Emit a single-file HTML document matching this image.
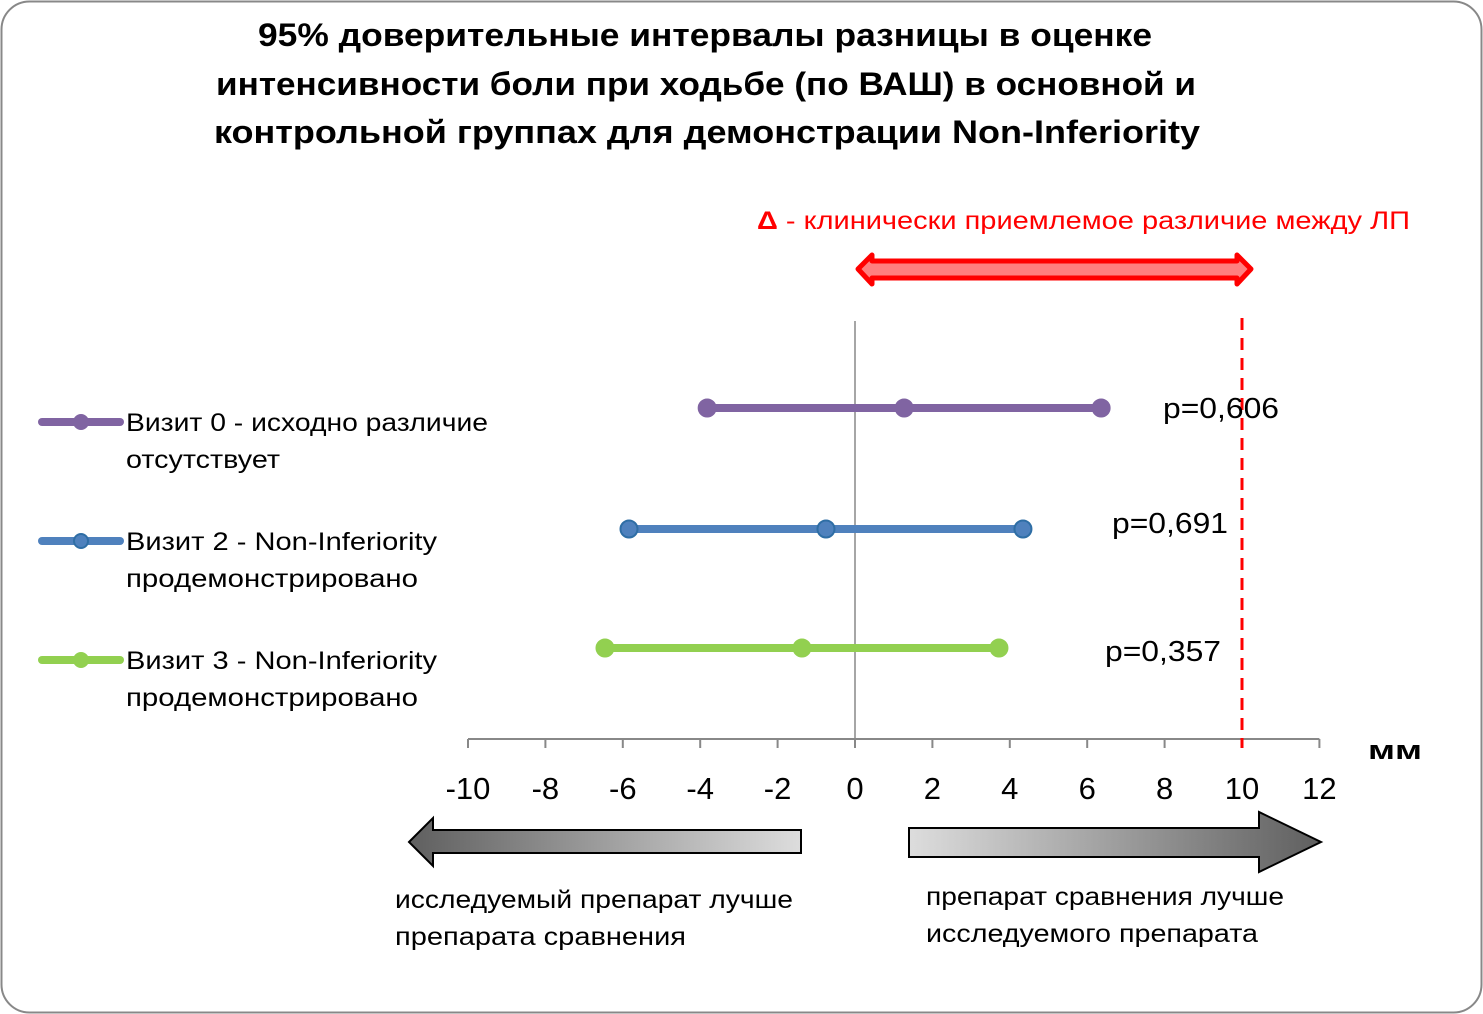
<!DOCTYPE html>
<html><head><meta charset="utf-8"><style>
body{margin:0;background:#fff;}
svg{display:block;font-family:"Liberation Sans","DejaVu Sans",sans-serif;}
</style></head><body>
<svg id="c" width="1483" height="1014">
<defs>
<linearGradient id="gl" x1="0" x2="1"><stop offset="0" stop-color="#5f5f5f"/><stop offset="1" stop-color="#dddddd"/></linearGradient>
<linearGradient id="gr" x1="0" x2="1"><stop offset="0" stop-color="#dddddd"/><stop offset="1" stop-color="#5f5f5f"/></linearGradient>
</defs>
<rect x="1.5" y="1.5" width="1480" height="1011" rx="28" fill="#fff" stroke="#888" stroke-width="2"/>
<g font-weight="bold" font-size="32" fill="#000">
<text x="258" y="46" textLength="894" lengthAdjust="spacingAndGlyphs">95% доверительные интервалы разницы в оценке</text>
<text x="216" y="95" textLength="980" lengthAdjust="spacingAndGlyphs">интенсивности боли при ходьбе (по ВАШ) в основной и</text>
<text x="214" y="143" textLength="986" lengthAdjust="spacingAndGlyphs">контрольной группах для демонстрации Non-Inferiority</text>
</g>
<text x="757" y="229" font-size="25" fill="#ff0000" textLength="653" lengthAdjust="spacingAndGlyphs"><tspan font-weight="bold">Δ</tspan> - клинически приемлемое  различие между ЛП</text>
<polygon points="858,269 872,255 872,261 1237,261 1237,255 1251,269 1237,284 1237,278 872,278 872,284" fill="#ff7f7f" stroke="#ff0000" stroke-width="5" stroke-linejoin="round"/>
<g id="axis"></g>
<text x="1368" y="759" font-size="27" font-weight="bold" textLength="54" lengthAdjust="spacingAndGlyphs">мм</text>
<g id="series"></g>
<polygon points="409,842 433,818 433,830 801,830 801,853 433,853 433,866" fill="url(#gl)" stroke="#000" stroke-width="2"/>
<polygon points="909,828 1259,828 1259,812 1321,842 1259,872 1259,857 909,857" fill="url(#gr)" stroke="#000" stroke-width="2"/>
<g font-size="25" fill="#000">
<text x="395" y="908" textLength="398" lengthAdjust="spacingAndGlyphs">исследуемый препарат лучше</text>
<text x="395" y="945" textLength="291" lengthAdjust="spacingAndGlyphs">препарата  сравнения</text>
<text x="926" y="905" textLength="358" lengthAdjust="spacingAndGlyphs">препарат сравнения лучше</text>
<text x="926" y="942" textLength="332" lengthAdjust="spacingAndGlyphs">исследуемого препарата</text>
</g>
</svg>
<script>
const ticks=[-10,-8,-6,-4,-2,0,2,4,6,8,10,12];
const seriesNames=["Визит 0 - исходно различие","Визит 2 - Non-Inferiority","Визит 3 - Non-Inferiority"];
const seriesSub=["отсутствует","продемонстрировано","продемонстрировано"];
const lowVals=[-3.82,-5.84,-6.46];
const midVals=[1.27,-0.75,-1.37];
const highVals=[6.36,4.34,3.72];
const pLabels=["p=0,606","p=0,691","p=0,357"];
const margin=10;
const colors=["#8064a2","#4f81bd","#92d050"];
const strokes=["#8064a2","#2f6ea5","#92d050"];
const rowY=[408,529,648];
const pX=[1163,1112,1105];
const pY=[418,533,661];
const nameW=[362,311,311];
const subW=[154,292,292];
const NS="http://www.w3.org/2000/svg";
const X=v=>855+(v)*38.7;
function mk(t,a,p){const e=document.createElementNS(NS,t);for(const k in a)e.setAttribute(k,a[k]);p.appendChild(e);return e;}
const ax=document.getElementById('axis');
let l=mk('line',{x1:X(-10),x2:X(12),y1:739,y2:739,stroke:'#888','stroke-width':2},ax);


ticks.forEach(t=>{
 let tk=mk('line',{x1:X(t),x2:X(t),y1:739,y2:748,stroke:'#888','stroke-width':2},ax);
 
 
 let tx=mk('text',{x:X(t),y:799,'font-size':31,'text-anchor':'middle'},ax);
 tx.textContent=String(t);
 
 
});
let z=mk('line',{x1:X(0),x2:X(0),y1:321,y2:739,stroke:'#888','stroke-width':1.5},ax);


let m=mk('line',{x1:X(margin),x2:X(margin),y1:318,y2:748,stroke:'#ff0000','stroke-width':3,'stroke-dasharray':'12,8'},ax);


const sg=document.getElementById('series');
for(let i=0;i<3;i++){
 const g=mk('g',{},sg);
 
 
 const y=rowY[i];
 let ln=mk('line',{x1:X(lowVals[i]),x2:X(highVals[i]),y1:y,y2:y,stroke:colors[i],'stroke-width':8},g);
 
 
 [lowVals[i],midVals[i],highVals[i]].forEach(v=>{
  let c=mk('circle',{cx:X(v),cy:y,r:8.5,fill:colors[i],stroke:strokes[i],'stroke-width':2},g);
  
  
 });
 let p=mk('text',{x:pX[i],y:pY[i],'font-size':29,textLength:116,lengthAdjust:'spacingAndGlyphs'},g);
 p.textContent=pLabels[i];
 
 
 const ly=[422,541,660][i];
 let lg=mk('g',{},g);
 
 
 mk('line',{x1:42,x2:120,y1:ly,y2:ly,stroke:colors[i],'stroke-width':8,'stroke-linecap':'round'},lg);
 mk('circle',{cx:81,cy:ly,r:7,fill:colors[i],stroke:strokes[i],'stroke-width':2},lg);
 let t=mk('text',{x:126,y:ly+9,'font-size':25,textLength:nameW[i],lengthAdjust:'spacingAndGlyphs'},lg);
 t.textContent=seriesNames[i];
 let t2=mk('text',{x:126,y:ly+46,'font-size':25,textLength:subW[i],lengthAdjust:'spacingAndGlyphs'},lg);
 t2.textContent=seriesSub[i];
}
</script>
</body></html>
